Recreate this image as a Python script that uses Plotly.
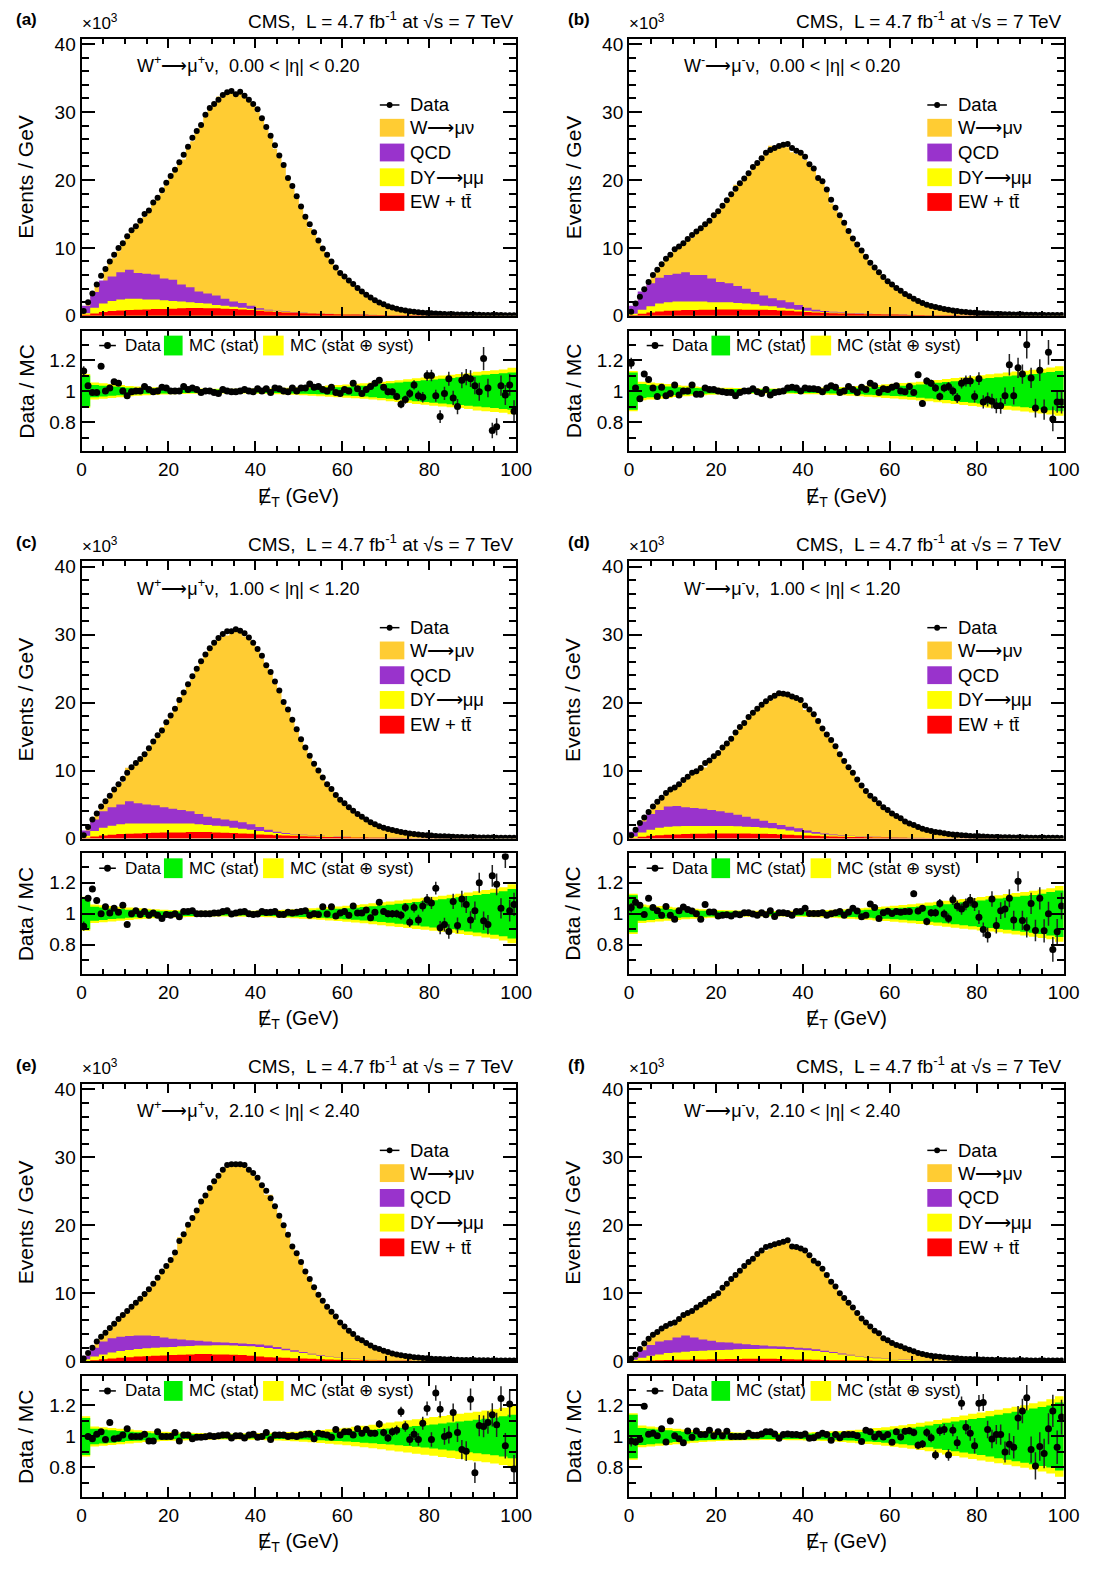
import numpy as np
import plotly.graph_objects as go

W_PX, H_PX = 1116, 1591
FONT = "Liberation Sans, Arial, sans-serif"

# text of the six panels
panel_tags = ["(a)", "(b)", "(c)", "(d)", "(e)", "(f)"]
channel_labels = [
    "W<sup>+</sup>⟶μ<sup>+</sup>ν,  0.00 < |η| < 0.20",
    "W<sup>-</sup>⟶μ<sup>-</sup>ν,  0.00 < |η| < 0.20",
    "W<sup>+</sup>⟶μ<sup>+</sup>ν,  1.00 < |η| < 1.20",
    "W<sup>-</sup>⟶μ<sup>-</sup>ν,  1.00 < |η| < 1.20",
    "W<sup>+</sup>⟶μ<sup>+</sup>ν,  2.10 < |η| < 2.40",
    "W<sup>-</sup>⟶μ<sup>-</sup>ν,  2.10 < |η| < 2.40",
]
lumi_label = "CMS,  L = 4.7 fb<sup>-1</sup> at √s = 7 TeV"
legend_main = ["W⟶μν", "QCD", "DY⟶μμ", "EW + tt̄"]

# 1 GeV bins: data points in the upper pad (x10^3 events / GeV)
data_a = [0.7, 2.0, 3.3, 4.6, 5.9, 6.9, 8.0, 9.0, 10.0, 10.7,
          11.7, 12.6, 13.2, 14.0, 15.0, 15.5, 16.7, 17.4, 18.5, 19.6,
          20.6, 21.5, 22.6, 23.7, 24.9, 26.2, 27.2, 28.1, 29.6, 30.6,
          31.2, 31.8, 32.5, 32.9, 33.1, 32.6, 33.0, 32.4, 31.8, 31.2,
          30.4, 29.1, 27.8, 26.5, 25.1, 23.6, 22.2, 20.3, 19.1, 17.6,
          16.1, 14.6, 13.5, 12.3, 11.1, 9.9, 9.0, 8.0, 7.1, 6.3,
          5.8, 5.2, 4.7, 4.1, 3.6, 3.1, 2.7, 2.3, 1.95, 1.7,
          1.4, 1.24, 1.05, 0.9, 0.78, 0.68, 0.6, 0.52, 0.46, 0.41,
          0.37, 0.33, 0.3, 0.27, 0.25, 0.23, 0.21, 0.19, 0.18, 0.17,
          0.16, 0.15, 0.14, 0.13, 0.12, 0.12, 0.11, 0.1, 0.1, 0.09]
data_b = [0.6, 1.8, 2.8, 3.9, 5.0, 6.0, 6.8, 7.6, 8.4, 9.0,
          9.8, 10.2, 10.7, 11.3, 11.9, 12.4, 12.9, 13.5, 14.0, 14.8,
          15.4, 16.2, 17.0, 17.9, 18.7, 19.5, 20.2, 21.0, 21.9, 22.5,
          23.2, 24.0, 24.4, 24.7, 25.0, 25.2, 25.3, 24.7, 24.3, 24.0,
          23.4, 22.3, 21.7, 20.3, 19.8, 18.6, 17.1, 15.9, 14.8, 13.7,
          12.5, 11.4, 10.5, 9.6, 8.7, 7.8, 7.1, 6.4, 5.7, 5.1,
          4.6, 4.1, 3.7, 3.2, 2.9, 2.5, 2.2, 1.9, 1.65, 1.45,
          1.3, 1.15, 1.0, 0.88, 0.8, 0.7, 0.62, 0.55, 0.5, 0.45,
          0.4, 0.37, 0.33, 0.3, 0.28, 0.26, 0.24, 0.22, 0.2, 0.19,
          0.18, 0.17, 0.16, 0.15, 0.14, 0.13, 0.13, 0.12, 0.11, 0.11]
data_c = [0.5, 1.7, 2.8, 3.7, 4.7, 5.5, 6.3, 7.2, 8.0, 8.8,
          9.7, 10.5, 11.1, 11.7, 12.4, 13.3, 14.3, 15.2, 15.9, 17.1,
          18.1, 19.1, 20.4, 21.5, 22.7, 23.9, 25.0, 26.1, 27.1, 28.0,
          28.8, 29.5, 30.1, 30.5, 30.5, 30.8, 30.6, 30.2, 29.6, 28.8,
          27.9, 26.9, 25.5, 24.5, 23.1, 21.8, 20.1, 19.0, 17.5, 16.1,
          14.6, 13.4, 12.2, 11.0, 10.0, 9.0, 8.0, 7.3, 6.4, 5.7,
          5.2, 4.6, 4.1, 3.6, 3.2, 2.8, 2.4, 2.1, 1.8, 1.6,
          1.4, 1.25, 1.1, 0.95, 0.85, 0.75, 0.67, 0.6, 0.53, 0.48,
          0.43, 0.39, 0.35, 0.32, 0.29, 0.26, 0.24, 0.22, 0.2, 0.19,
          0.18, 0.17, 0.16, 0.15, 0.14, 0.13, 0.12, 0.12, 0.11, 0.1]
data_d = [0.5, 1.3, 2.3, 3.1, 3.9, 4.7, 5.4, 6.0, 6.7, 7.2,
          7.5, 8.0, 8.6, 9.1, 9.7, 9.9, 10.4, 11.1, 11.5, 12.1,
          12.6, 13.4, 14.0, 14.7, 15.6, 16.4, 17.0, 17.9, 18.5, 19.1,
          19.7, 20.2, 20.7, 21.0, 21.4, 21.3, 21.2, 20.9, 20.7, 20.4,
          19.6, 19.0, 18.3, 17.3, 16.2, 15.3, 14.5, 13.6, 12.4, 11.4,
          10.5, 9.7, 8.7, 7.8, 7.0, 6.3, 5.8, 5.2, 4.6, 4.2,
          3.7, 3.3, 3.0, 2.5, 2.2, 2.0, 1.7, 1.45, 1.25, 1.1,
          0.98, 0.87, 0.77, 0.68, 0.6, 0.54, 0.48, 0.43, 0.39, 0.35,
          0.32, 0.29, 0.26, 0.24, 0.22, 0.2, 0.19, 0.18, 0.17, 0.16,
          0.15, 0.14, 0.13, 0.13, 0.12, 0.12, 0.11, 0.1, 0.1, 0.09]
data_e = [0.4, 1.2, 2.0, 2.9, 3.6, 4.2, 4.9, 5.5, 6.2, 6.8,
          7.4, 8.0, 8.6, 9.2, 9.9, 10.6, 11.4, 12.3, 13.2, 14.0,
          14.9, 16.0, 17.7, 18.7, 20.1, 21.1, 22.2, 23.5, 24.4, 25.5,
          26.5, 27.3, 28.2, 28.9, 29.0, 29.0, 29.0, 28.9, 28.2, 27.7,
          27.0, 25.9, 25.1, 24.0, 22.8, 21.4, 20.0, 18.6, 16.9, 15.9,
          14.6, 13.2, 12.1, 10.9, 9.8, 8.9, 8.0, 7.3, 6.6, 5.7,
          5.1, 4.5, 4.0, 3.4, 3.1, 2.7, 2.3, 2.0, 1.8, 1.55,
          1.35, 1.15, 1.0, 0.88, 0.77, 0.68, 0.6, 0.53, 0.47, 0.42,
          0.38, 0.34, 0.31, 0.28, 0.25, 0.23, 0.21, 0.19, 0.18, 0.17,
          0.16, 0.15, 0.14, 0.13, 0.12, 0.12, 0.11, 0.1, 0.1, 0.09]
data_f = [0.4, 1.0, 1.8, 2.6, 3.3, 3.9, 4.3, 4.8, 5.2, 5.5,
          5.7, 6.2, 6.8, 7.1, 7.4, 7.9, 8.3, 8.7, 9.2, 9.6,
          10.0, 10.8, 11.4, 12.1, 12.7, 13.3, 14.0, 14.6, 15.1, 15.8,
          16.3, 16.8, 17.0, 17.2, 17.4, 17.6, 17.8, 16.9, 16.8, 16.6,
          16.3, 15.6, 14.8, 14.4, 13.6, 12.7, 11.7, 11.0, 10.0, 9.3,
          8.6, 7.9, 7.1, 6.3, 5.7, 5.1, 4.5, 4.1, 3.4, 3.1,
          2.7, 2.4, 2.2, 1.9, 1.7, 1.45, 1.2, 1.05, 0.92, 0.82,
          0.73, 0.65, 0.58, 0.52, 0.47, 0.42, 0.38, 0.34, 0.31, 0.28,
          0.26, 0.24, 0.22, 0.2, 0.19, 0.18, 0.17, 0.16, 0.15, 0.14,
          0.13, 0.13, 0.12, 0.12, 0.11, 0.11, 0.1, 0.1, 0.09, 0.09]

# 1 GeV bins: data / MC in the lower pad
ratio_a = [1.13, 1.035, 0.99, 0.99, 1.16, 1.0, 1.02, 1.06, 1.05, 1.0,
           0.97, 0.995, 1.0, 1.0, 1.03, 1.01, 0.995, 1.0, 1.025, 1.02,
           1.0, 1.0, 1.0, 1.03, 1.01, 1.02, 1.01, 0.99, 1.0, 1.0,
           0.99, 0.985, 1.01, 1.0, 0.995, 0.995, 1.0, 1.01, 1.0, 0.995,
           1.015, 1.0, 1.015, 0.99, 1.02, 1.015, 1.0, 0.995, 1.02, 1.0,
           1.02, 1.02, 1.045, 1.025, 1.03, 1.01, 1.0, 1.025, 0.99, 0.985,
           1.01, 1.0, 1.05, 1.015, 0.985, 1.01, 1.03, 1.05, 1.07, 1.025,
           0.995, 0.995, 0.965, 0.915, 0.945, 0.985, 1.04, 0.97, 0.96, 1.10,
           1.10, 0.97, 0.835, 0.985, 1.08, 0.955, 0.9, 1.07, 1.09, 1.08,
           1.035, 0.995, 1.21, 1.02, 0.745, 0.77, 1.035, 0.975, 1.04, 0.87]
ratio_b = [1.18, 1.02, 0.95, 1.11, 1.075, 1.02, 0.965, 1.025, 0.97, 0.985,
           1.04, 0.975, 1.0, 1.0, 1.04, 0.98, 0.98, 1.02, 1.01, 1.01,
           1.0, 0.995, 0.99, 0.99, 0.97, 0.99, 1.0, 1.0, 1.015, 0.995,
           0.985, 1.01, 0.975, 0.99, 0.995, 1.0, 1.02, 1.025, 1.02, 1.0,
           1.02, 1.015, 1.015, 1.01, 0.995, 1.02, 1.035, 1.025, 0.99, 1.0,
           1.03, 1.01, 0.99, 1.025, 1.01, 1.05, 1.035, 0.99, 1.015, 1.01,
           1.025, 1.035, 1.0, 0.995, 1.03, 0.99, 1.105, 0.92, 1.065, 1.05,
           1.02, 0.965, 1.02, 1.03, 1.0, 0.955, 1.05, 1.065, 1.065, 0.965,
           1.08, 0.93, 0.945, 0.935, 0.905, 0.905, 0.97, 1.17, 0.97, 1.15,
           1.11, 1.30, 1.085, 0.89, 1.135, 0.88, 1.25, 0.82, 0.93, 0.93]
ratio_c = [0.92, 1.10, 1.16, 1.085, 1.0, 1.045, 1.005, 1.035, 1.01, 1.055,
           0.93, 1.0, 1.02, 0.995, 1.015, 0.99, 1.005, 0.99, 0.97, 0.995,
           0.99, 1.0, 0.98, 1.015, 1.015, 1.02, 1.0, 1.0, 1.0, 1.0,
           1.005, 1.005, 1.015, 1.02, 0.998, 1.005, 1.012, 1.015, 1.0, 0.995,
           0.998, 1.015, 1.008, 1.01, 1.015, 0.995, 0.995, 1.01, 1.005, 1.01,
           1.015, 1.02, 0.99, 1.0, 0.995, 1.045, 0.998, 1.045, 0.985, 1.005,
           1.015, 0.99, 1.05, 1.005, 1.005, 1.025, 0.975, 1.01, 1.075, 1.015,
           1.0, 1.0, 1.0, 0.99, 1.04, 0.945, 1.04, 0.96, 1.05, 1.09,
           1.07, 1.165, 0.91, 0.93, 0.885, 1.08, 0.925, 1.095, 1.06, 0.96,
           1.02, 1.20, 0.955, 0.93, 1.245, 1.19, 1.035, 1.37, 1.02, 1.06]
ratio_d = [1.04, 1.075, 1.055, 0.995, 1.10, 1.04, 1.02, 0.99, 1.047, 0.99,
           0.965, 1.02, 1.043, 1.027, 1.018, 1.0, 0.965, 1.06, 1.012, 1.012,
           0.986, 0.99, 0.994, 0.986, 0.998, 0.994, 1.006, 1.006, 0.998, 0.99,
           1.006, 0.994, 1.02, 0.982, 1.006, 1.006, 1.002, 0.99, 1.014, 1.014,
           1.035, 1.002, 1.002, 1.002, 1.006, 0.99, 1.0, 1.006, 1.014, 0.99,
           1.01, 1.035, 1.018, 0.98, 0.99, 1.063, 1.04, 0.97, 1.006, 1.016,
           1.002, 1.014, 1.01, 1.014, 1.014, 1.13, 1.018, 1.035, 0.95, 1.006,
           1.006, 1.067, 0.998, 0.97, 1.09, 1.05, 1.03, 1.06, 1.088, 1.06,
           0.978, 0.898, 0.863, 1.096, 0.925, 1.02, 1.03, 1.10, 0.96, 1.21,
           0.957, 0.912, 1.067, 0.892, 1.10, 0.89, 1.0, 0.77, 0.884, 1.05]
ratio_e = [None, 1.0, 0.985, 1.015, 1.03, 0.98, 1.09, 0.985, 0.99, 1.01,
           1.05, 1.0, 1.0, 1.0, 1.015, 0.97, 0.97, 1.03, 1.0, 1.0,
           1.0, 1.025, 0.97, 1.01, 1.01, 0.985, 0.995, 0.995, 0.998, 1.005,
           1.0, 1.005, 1.01, 1.01, 0.99, 1.005, 1.005, 0.99, 1.01, 1.015,
           0.995, 1.0, 1.025, 0.98, 1.01, 1.01, 1.01, 1.0, 1.005, 1.0,
           1.01, 1.015, 1.015, 0.985, 1.02, 1.015, 1.01, 0.995, 1.045, 1.01,
           1.03, 1.03, 1.01, 1.05, 1.02, 1.045, 1.02, 1.02, 1.08, 1.025,
           0.99, 1.03, 1.04, 1.16, 1.065, 0.98, 1.015, 0.98, 1.085, 1.18,
           0.98, 1.28, 1.175, 1.0, 1.01, 1.155, 1.025, 0.915, 0.905, 1.24,
           0.765, 1.07, 1.065, 1.09, 1.14, 1.075, 1.245, 0.94, 1.21, 0.79]
ratio_f = [0.97, 0.965, 0.98, 1.195, 1.015, 1.02, 1.005, 1.05, 0.965, 1.1,
           1.005, 0.985, 0.96, 1.035, 0.995, 1.035, 1.012, 1.012, 1.04, 1.005,
           1.03, 1.005, 1.033, 1.0, 1.0, 1.0, 1.0, 1.02, 1.008, 1.008,
           1.016, 1.03, 1.03, 1.016, 0.988, 1.012, 1.016, 1.012, 1.012, 1.008,
           1.016, 0.988, 0.992, 1.008, 1.02, 1.012, 0.975, 1.012, 0.992, 1.012,
           1.012, 1.012, 1.004, 0.967, 1.04, 1.03, 0.996, 1.016, 0.996, 1.012,
           0.963, 1.03, 0.996, 1.033, 1.037, 1.025, 0.943, 0.951, 1.025, 0.992,
           0.88, 1.037, 1.045, 0.88, 1.04, 0.96, 1.215, 1.06, 1.02, 0.94,
           1.215, 1.22, 1.045, 0.984, 1.012, 1.012, 0.9, 0.95, 0.93, 1.12,
           1.165, 1.25, 0.915, 0.81, 0.935, 0.89, 1.05, 1.165, 0.93, 1.125]

# 1 GeV bins: half length of the data / MC error bars
err_a = [0.03, 0.015, 0.01, 0.01, 0.01, 0.008, 0.008, 0.007, 0.007, 0.006,
         0.006, 0.006, 0.005, 0.005, 0.005, 0.005, 0.005, 0.005, 0.005, 0.005,
         0.005, 0.005, 0.005, 0.005, 0.005, 0.005, 0.005, 0.005, 0.005, 0.005,
         0.005, 0.005, 0.005, 0.005, 0.005, 0.005, 0.005, 0.005, 0.005, 0.005,
         0.005, 0.005, 0.005, 0.005, 0.006, 0.006, 0.006, 0.006, 0.007, 0.007,
         0.007, 0.008, 0.008, 0.009, 0.009, 0.01, 0.01, 0.011, 0.011, 0.012,
         0.012, 0.013, 0.014, 0.015, 0.016, 0.017, 0.018, 0.019, 0.02, 0.021,
         0.022, 0.023, 0.024, 0.026, 0.027, 0.029, 0.03, 0.032, 0.034, 0.035,
         0.037, 0.039, 0.041, 0.043, 0.045, 0.047, 0.049, 0.051, 0.052, 0.054,
         0.056, 0.058, 0.075, 0.06, 0.05, 0.055, 0.065, 0.065, 0.07, 0.07]
err_b = [0.035, 0.016, 0.011, 0.01, 0.01, 0.009, 0.008, 0.008, 0.007, 0.007,
         0.006, 0.006, 0.006, 0.005, 0.005, 0.005, 0.005, 0.005, 0.005, 0.005,
         0.005, 0.005, 0.005, 0.005, 0.005, 0.005, 0.005, 0.005, 0.005, 0.005,
         0.005, 0.005, 0.005, 0.005, 0.005, 0.005, 0.005, 0.005, 0.005, 0.005,
         0.005, 0.005, 0.006, 0.006, 0.006, 0.006, 0.007, 0.007, 0.007, 0.008,
         0.008, 0.009, 0.009, 0.01, 0.01, 0.011, 0.011, 0.012, 0.013, 0.013,
         0.014, 0.015, 0.016, 0.017, 0.018, 0.019, 0.02, 0.021, 0.022, 0.023,
         0.025, 0.026, 0.027, 0.029, 0.03, 0.032, 0.034, 0.035, 0.037, 0.039,
         0.041, 0.043, 0.045, 0.047, 0.049, 0.051, 0.053, 0.07, 0.056, 0.065,
         0.062, 0.09, 0.065, 0.06, 0.07, 0.065, 0.08, 0.08, 0.07, 0.075]
err_c = [0.03, 0.02, 0.015, 0.012, 0.01, 0.009, 0.008, 0.008, 0.007, 0.007,
         0.006, 0.006, 0.006, 0.005, 0.005, 0.005, 0.005, 0.005, 0.005, 0.005,
         0.005, 0.005, 0.005, 0.005, 0.005, 0.005, 0.005, 0.005, 0.005, 0.005,
         0.005, 0.005, 0.005, 0.005, 0.005, 0.005, 0.005, 0.005, 0.005, 0.005,
         0.005, 0.005, 0.005, 0.005, 0.005, 0.006, 0.006, 0.006, 0.006, 0.007,
         0.007, 0.008, 0.008, 0.009, 0.009, 0.01, 0.01, 0.011, 0.012, 0.012,
         0.013, 0.014, 0.015, 0.016, 0.017, 0.018, 0.019, 0.02, 0.021, 0.022,
         0.023, 0.025, 0.026, 0.028, 0.029, 0.031, 0.032, 0.034, 0.036, 0.037,
         0.039, 0.041, 0.043, 0.045, 0.047, 0.049, 0.051, 0.053, 0.055, 0.057,
         0.059, 0.065, 0.06, 0.062, 0.07, 0.07, 0.065, 0.075, 0.07, 0.075]
err_d = [0.03, 0.02, 0.015, 0.012, 0.011, 0.01, 0.009, 0.008, 0.008, 0.007,
         0.007, 0.006, 0.006, 0.006, 0.006, 0.006, 0.005, 0.005, 0.005, 0.005,
         0.005, 0.005, 0.005, 0.005, 0.005, 0.005, 0.005, 0.005, 0.005, 0.005,
         0.005, 0.005, 0.005, 0.005, 0.005, 0.005, 0.005, 0.005, 0.005, 0.005,
         0.005, 0.005, 0.006, 0.006, 0.006, 0.006, 0.007, 0.007, 0.007, 0.008,
         0.008, 0.009, 0.009, 0.01, 0.011, 0.011, 0.012, 0.013, 0.013, 0.014,
         0.015, 0.016, 0.017, 0.018, 0.019, 0.02, 0.021, 0.022, 0.024, 0.025,
         0.026, 0.028, 0.029, 0.031, 0.033, 0.034, 0.036, 0.038, 0.04, 0.042,
         0.044, 0.046, 0.048, 0.05, 0.052, 0.054, 0.056, 0.058, 0.06, 0.065,
         0.062, 0.065, 0.068, 0.07, 0.072, 0.075, 0.078, 0.08, 0.082, 0.085]
err_e = [0.03, 0.02, 0.015, 0.012, 0.011, 0.01, 0.009, 0.008, 0.008, 0.007,
         0.007, 0.006, 0.006, 0.006, 0.006, 0.006, 0.005, 0.005, 0.005, 0.005,
         0.005, 0.005, 0.005, 0.005, 0.005, 0.005, 0.005, 0.005, 0.005, 0.005,
         0.005, 0.005, 0.005, 0.005, 0.005, 0.005, 0.005, 0.005, 0.005, 0.005,
         0.005, 0.005, 0.006, 0.006, 0.006, 0.006, 0.007, 0.007, 0.007, 0.008,
         0.008, 0.009, 0.009, 0.01, 0.011, 0.011, 0.012, 0.013, 0.013, 0.014,
         0.015, 0.016, 0.017, 0.018, 0.019, 0.02, 0.021, 0.022, 0.024, 0.025,
         0.026, 0.028, 0.03, 0.032, 0.034, 0.036, 0.038, 0.04, 0.042, 0.045,
         0.047, 0.05, 0.052, 0.054, 0.056, 0.058, 0.06, 0.062, 0.064, 0.07,
         0.066, 0.068, 0.07, 0.072, 0.075, 0.078, 0.08, 0.083, 0.086, 0.09]
err_f = [0.035, 0.025, 0.018, 0.015, 0.013, 0.012, 0.011, 0.01, 0.01, 0.009,
         0.009, 0.008, 0.008, 0.007, 0.007, 0.007, 0.007, 0.007, 0.006, 0.006,
         0.006, 0.006, 0.006, 0.006, 0.006, 0.006, 0.006, 0.006, 0.006, 0.006,
         0.006, 0.006, 0.006, 0.006, 0.006, 0.006, 0.006, 0.006, 0.006, 0.006,
         0.006, 0.007, 0.007, 0.007, 0.008, 0.008, 0.008, 0.009, 0.009, 0.01,
         0.01, 0.011, 0.011, 0.012, 0.013, 0.013, 0.014, 0.015, 0.016, 0.017,
         0.018, 0.019, 0.02, 0.021, 0.022, 0.024, 0.025, 0.026, 0.028, 0.029,
         0.031, 0.033, 0.035, 0.037, 0.039, 0.041, 0.043, 0.045, 0.047, 0.05,
         0.052, 0.055, 0.057, 0.06, 0.062, 0.065, 0.068, 0.07, 0.073, 0.076,
         0.079, 0.082, 0.085, 0.088, 0.092, 0.095, 0.1, 0.104, 0.108, 0.112]

# 2 GeV bins: background contributions (x10^3 events / GeV)
ew_a = [0.15, 0.35, 0.55, 0.7, 0.8, 0.85, 0.9, 0.95, 1.0, 1.0,
        1.05, 1.1, 1.15, 1.15, 1.1, 1.1, 1.05, 1.0, 0.95, 0.85,
        0.75, 0.65, 0.55, 0.5, 0.45, 0.4, 0.35, 0.3, 0.27, 0.24,
        0.21, 0.18, 0.16, 0.14, 0.12, 0.1, 0.09, 0.08, 0.07, 0.06,
        0.05, 0.05, 0.04, 0.04, 0.03, 0.03, 0.03, 0.02, 0.02, 0.02]
dy_a = [0.25, 0.85, 1.25, 1.5, 1.6, 1.65, 1.6, 1.45, 1.4, 1.3,
        1.15, 1.0, 0.85, 0.75, 0.7, 0.5, 0.45, 0.35, 0.25, 0.2,
        0.15, 0.13, 0.11, 0.08, 0.05, 0.04, 0.03, 0.03, 0.02, 0.02,
        0.02, 0.02, 0.01, 0.01, 0.01, 0.01, 0.01, 0.01, 0.01, 0.01,
        0.01, 0.01, 0.01, 0.0, 0.0, 0.0, 0.0, 0.0, 0.0, 0.0]
qcd_a = [1.1, 2.3, 3.4, 3.6, 4.0, 4.3, 3.8, 3.8, 3.7, 3.2,
         3.1, 2.5, 2.2, 1.7, 1.5, 1.4, 1.0, 0.75, 0.7, 0.45,
         0.2, 0.1, 0.08, 0.07, 0.06, 0.05, 0.04, 0.03, 0.03, 0.02,
         0.02, 0.01, 0.01, 0.01, 0.01, 0.01, 0.0, 0.0, 0.0, 0.0,
         0.0, 0.0, 0.0, 0.0, 0.0, 0.0, 0.0, 0.0, 0.0, 0.0]
ew_b = [0.1, 0.3, 0.5, 0.65, 0.75, 0.8, 0.85, 0.85, 0.9, 0.9,
        0.95, 0.95, 0.95, 0.9, 0.9, 0.9, 0.85, 0.8, 0.75, 0.65,
        0.55, 0.5, 0.45, 0.4, 0.35, 0.3, 0.28, 0.25, 0.22, 0.2,
        0.18, 0.16, 0.14, 0.12, 0.1, 0.09, 0.08, 0.07, 0.06, 0.05,
        0.05, 0.04, 0.04, 0.03, 0.03, 0.03, 0.02, 0.02, 0.02, 0.02]
dy_b = [0.2, 0.6, 0.9, 1.15, 1.25, 1.3, 1.25, 1.25, 1.2, 1.1,
        1.05, 1.05, 0.95, 0.9, 0.8, 0.6, 0.55, 0.4, 0.3, 0.25,
        0.2, 0.15, 0.1, 0.08, 0.07, 0.06, 0.04, 0.03, 0.02, 0.01,
        0.01, 0.01, 0.01, 0.01, 0.01, 0.0, 0.0, 0.0, 0.0, 0.0,
        0.0, 0.0, 0.0, 0.0, 0.0, 0.0, 0.0, 0.0, 0.0, 0.0]
qcd_b = [1.2, 2.7, 3.4, 3.8, 4.0, 4.1, 4.3, 3.9, 3.9, 3.5,
         3.0, 2.8, 2.5, 2.2, 1.8, 1.5, 1.2, 1.1, 0.95, 0.7,
         0.45, 0.25, 0.15, 0.12, 0.08, 0.06, 0.05, 0.04, 0.03, 0.02,
         0.02, 0.01, 0.01, 0.01, 0.01, 0.0, 0.0, 0.0, 0.0, 0.0,
         0.0, 0.0, 0.0, 0.0, 0.0, 0.0, 0.0, 0.0, 0.0, 0.0]
ew_c = [0.1, 0.3, 0.45, 0.55, 0.65, 0.7, 0.75, 0.8, 0.85, 0.9,
        0.9, 0.9, 0.95, 0.95, 0.95, 0.9, 0.85, 0.8, 0.75, 0.7,
        0.6, 0.55, 0.5, 0.45, 0.4, 0.35, 0.3, 0.27, 0.24, 0.21,
        0.18, 0.16, 0.14, 0.12, 0.1, 0.09, 0.08, 0.07, 0.06, 0.05,
        0.05, 0.04, 0.04, 0.03, 0.03, 0.03, 0.02, 0.02, 0.02, 0.02]
dy_c = [0.3, 0.8, 1.15, 1.35, 1.45, 1.5, 1.45, 1.4, 1.35, 1.3,
        1.3, 1.3, 1.25, 1.15, 1.05, 1.0, 0.95, 0.8, 0.7, 0.6,
        0.5, 0.4, 0.3, 0.23, 0.18, 0.15, 0.13, 0.1, 0.08, 0.07,
        0.06, 0.05, 0.04, 0.04, 0.03, 0.03, 0.02, 0.02, 0.02, 0.02,
        0.01, 0.01, 0.01, 0.01, 0.01, 0.01, 0.01, 0.01, 0.01, 0.01]
qcd_c = [0.8, 1.7, 2.4, 2.7, 2.9, 3.3, 3.0, 2.8, 2.7, 2.4,
         2.2, 2.0, 1.8, 1.5, 1.2, 1.1, 1.0, 1.0, 0.95, 0.8,
         0.6, 0.35, 0.2, 0.12, 0.07, 0.05, 0.04, 0.03, 0.02, 0.02,
         0.01, 0.01, 0.01, 0.01, 0.0, 0.0, 0.0, 0.0, 0.0, 0.0,
         0.0, 0.0, 0.0, 0.0, 0.0, 0.0, 0.0, 0.0, 0.0, 0.0]
ew_d = [0.08, 0.25, 0.4, 0.5, 0.55, 0.6, 0.65, 0.7, 0.7, 0.75,
        0.75, 0.75, 0.75, 0.75, 0.7, 0.7, 0.65, 0.6, 0.55, 0.5,
        0.45, 0.4, 0.35, 0.3, 0.27, 0.24, 0.21, 0.18, 0.16, 0.14,
        0.12, 0.1, 0.09, 0.08, 0.07, 0.06, 0.05, 0.05, 0.04, 0.04,
        0.03, 0.03, 0.03, 0.02, 0.02, 0.02, 0.02, 0.02, 0.01, 0.01]
dy_d = [0.22, 0.65, 0.9, 1.1, 1.2, 1.2, 1.2, 1.15, 1.15, 1.1,
        1.1, 1.1, 1.05, 1.0, 1.0, 0.9, 0.85, 0.75, 0.65, 0.5,
        0.4, 0.32, 0.25, 0.2, 0.15, 0.12, 0.09, 0.08, 0.06, 0.05,
        0.04, 0.04, 0.03, 0.03, 0.02, 0.02, 0.02, 0.02, 0.01, 0.01,
        0.01, 0.01, 0.01, 0.01, 0.01, 0.01, 0.01, 0.01, 0.01, 0.01]
qcd_d = [0.7, 1.6, 2.3, 2.6, 2.95, 3.0, 2.75, 2.65, 2.55, 2.35,
         2.15, 1.95, 1.7, 1.45, 1.2, 1.0, 0.8, 0.65, 0.55, 0.5,
         0.35, 0.23, 0.15, 0.1, 0.08, 0.06, 0.05, 0.04, 0.03, 0.02,
         0.02, 0.01, 0.01, 0.01, 0.0, 0.0, 0.0, 0.0, 0.0, 0.0,
         0.0, 0.0, 0.0, 0.0, 0.0, 0.0, 0.0, 0.0, 0.0, 0.0]
ew_e = [0.05, 0.15, 0.3, 0.4, 0.5, 0.6, 0.7, 0.75, 0.8, 0.85,
        0.9, 0.95, 1.0, 1.05, 1.05, 1.0, 1.0, 0.95, 0.9, 0.8,
        0.7, 0.6, 0.55, 0.5, 0.45, 0.4, 0.35, 0.3, 0.25, 0.2,
        0.17, 0.15, 0.13, 0.11, 0.1, 0.08, 0.07, 0.06, 0.05, 0.05,
        0.04, 0.04, 0.03, 0.03, 0.03, 0.02, 0.02, 0.02, 0.02, 0.02]
dy_e = [0.25, 0.55, 0.7, 0.9, 1.0, 1.05, 1.1, 1.15, 1.2, 1.2,
        1.2, 1.25, 1.25, 1.25, 1.25, 1.35, 1.35, 1.35, 1.35, 1.4,
        1.4, 1.35, 1.25, 1.1, 0.95, 0.8, 0.65, 0.5, 0.4, 0.3,
        0.23, 0.17, 0.12, 0.09, 0.06, 0.05, 0.03, 0.02, 0.02, 0.01,
        0.01, 0.01, 0.01, 0.01, 0.01, 0.01, 0.01, 0.01, 0.01, 0.01]
qcd_e = [0.5, 1.3, 1.9, 2.1, 2.1, 2.05, 2.0, 1.9, 1.7, 1.45,
         1.2, 1.0, 0.85, 0.7, 0.6, 0.45, 0.4, 0.4, 0.35, 0.35,
         0.35, 0.35, 0.3, 0.25, 0.2, 0.15, 0.1, 0.1, 0.05, 0.05,
         0.04, 0.03, 0.02, 0.02, 0.01, 0.01, 0.01, 0.0, 0.0, 0.0,
         0.0, 0.0, 0.0, 0.0, 0.0, 0.0, 0.0, 0.0, 0.0, 0.0]
ew_f = [0.03, 0.08, 0.12, 0.15, 0.18, 0.2, 0.22, 0.24, 0.26, 0.28,
        0.3, 0.32, 0.34, 0.35, 0.36, 0.36, 0.35, 0.33, 0.3, 0.27,
        0.24, 0.21, 0.18, 0.16, 0.14, 0.12, 0.1, 0.09, 0.08, 0.07,
        0.06, 0.05, 0.04, 0.04, 0.03, 0.03, 0.02, 0.02, 0.02, 0.02,
        0.01, 0.01, 0.01, 0.01, 0.01, 0.01, 0.01, 0.01, 0.01, 0.01]
dy_f = [0.17, 0.42, 0.68, 0.85, 1.02, 1.1, 1.18, 1.26, 1.29, 1.32,
        1.35, 1.38, 1.41, 1.45, 1.44, 1.49, 1.5, 1.47, 1.45, 1.43,
        1.36, 1.29, 1.17, 1.04, 0.86, 0.73, 0.6, 0.46, 0.37, 0.29,
        0.22, 0.17, 0.14, 0.1, 0.08, 0.06, 0.05, 0.03, 0.02, 0.02,
        0.01, 0.01, 0.01, 0.01, 0.01, 0.01, 0.01, 0.01, 0.01, 0.01]
qcd_f = [0.4, 1.1, 1.6, 1.9, 1.9, 2.2, 2.4, 2.0, 1.65, 1.4,
         1.15, 1.05, 0.85, 0.7, 0.6, 0.45, 0.35, 0.35, 0.35, 0.3,
         0.3, 0.25, 0.2, 0.15, 0.15, 0.1, 0.08, 0.07, 0.05, 0.04,
         0.03, 0.02, 0.02, 0.01, 0.01, 0.0, 0.0, 0.0, 0.0, 0.0,
         0.0, 0.0, 0.0, 0.0, 0.0, 0.0, 0.0, 0.0, 0.0, 0.0]

# 2 GeV bins: relative MC uncertainty, stat only and stat (+) syst
stat_a = [0.1, 0.04, 0.035, 0.03, 0.027, 0.022, 0.02, 0.018, 0.016, 0.015,
          0.014, 0.013, 0.012, 0.011, 0.011, 0.01, 0.01, 0.01, 0.01, 0.01,
          0.011, 0.012, 0.013, 0.014, 0.015, 0.017, 0.019, 0.021, 0.023, 0.025,
          0.028, 0.031, 0.035, 0.04, 0.045, 0.05, 0.055, 0.06, 0.065, 0.07,
          0.075, 0.08, 0.085, 0.09, 0.095, 0.1, 0.105, 0.11, 0.115, 0.12]
syst_a = [0.11, 0.055, 0.05, 0.045, 0.04, 0.033, 0.03, 0.027, 0.025, 0.022,
          0.02, 0.019, 0.018, 0.017, 0.016, 0.015, 0.015, 0.015, 0.015, 0.016,
          0.017, 0.018, 0.02, 0.022, 0.024, 0.027, 0.03, 0.033, 0.036, 0.04,
          0.043, 0.047, 0.05, 0.055, 0.06, 0.065, 0.07, 0.077, 0.083, 0.088,
          0.095, 0.1, 0.105, 0.11, 0.115, 0.125, 0.13, 0.135, 0.14, 0.15]
stat_b = [0.12, 0.045, 0.04, 0.034, 0.03, 0.025, 0.022, 0.02, 0.018, 0.016,
          0.015, 0.014, 0.013, 0.012, 0.012, 0.011, 0.011, 0.011, 0.011, 0.012,
          0.012, 0.013, 0.014, 0.016, 0.017, 0.019, 0.021, 0.023, 0.026, 0.028,
          0.031, 0.034, 0.038, 0.043, 0.048, 0.053, 0.058, 0.064, 0.07, 0.075,
          0.08, 0.085, 0.09, 0.095, 0.1, 0.105, 0.11, 0.118, 0.124, 0.13]
syst_b = [0.13, 0.06, 0.055, 0.05, 0.045, 0.038, 0.034, 0.03, 0.027, 0.024,
          0.022, 0.021, 0.02, 0.019, 0.018, 0.017, 0.017, 0.017, 0.018, 0.019,
          0.02, 0.021, 0.023, 0.025, 0.027, 0.03, 0.033, 0.036, 0.04, 0.044,
          0.048, 0.052, 0.056, 0.061, 0.066, 0.072, 0.078, 0.084, 0.09, 0.096,
          0.102, 0.108, 0.114, 0.12, 0.126, 0.132, 0.138, 0.145, 0.152, 0.16]
stat_c = [0.1, 0.045, 0.04, 0.034, 0.03, 0.026, 0.023, 0.021, 0.019, 0.017,
          0.016, 0.015, 0.014, 0.013, 0.012, 0.012, 0.012, 0.012, 0.012, 0.013,
          0.013, 0.014, 0.015, 0.017, 0.019, 0.021, 0.023, 0.026, 0.029, 0.032,
          0.035, 0.039, 0.043, 0.048, 0.053, 0.058, 0.064, 0.07, 0.076, 0.082,
          0.088, 0.094, 0.1, 0.107, 0.114, 0.121, 0.128, 0.136, 0.145, 0.16]
syst_c = [0.11, 0.06, 0.055, 0.05, 0.045, 0.04, 0.036, 0.032, 0.029, 0.026,
          0.024, 0.022, 0.021, 0.02, 0.019, 0.018, 0.018, 0.018, 0.019, 0.02,
          0.021, 0.022, 0.024, 0.026, 0.029, 0.032, 0.035, 0.039, 0.043, 0.047,
          0.052, 0.057, 0.062, 0.068, 0.074, 0.08, 0.086, 0.092, 0.098, 0.104,
          0.11, 0.116, 0.123, 0.13, 0.137, 0.145, 0.153, 0.162, 0.172, 0.19]
stat_d = [0.12, 0.045, 0.04, 0.034, 0.03, 0.026, 0.023, 0.021, 0.019, 0.017,
          0.016, 0.015, 0.014, 0.013, 0.012, 0.012, 0.012, 0.012, 0.012, 0.013,
          0.013, 0.014, 0.015, 0.017, 0.019, 0.021, 0.023, 0.026, 0.029, 0.032,
          0.035, 0.039, 0.043, 0.047, 0.052, 0.057, 0.062, 0.068, 0.074, 0.08,
          0.086, 0.092, 0.098, 0.104, 0.11, 0.116, 0.122, 0.13, 0.14, 0.15]
syst_d = [0.13, 0.06, 0.055, 0.05, 0.045, 0.04, 0.036, 0.032, 0.029, 0.026,
          0.024, 0.022, 0.021, 0.02, 0.019, 0.018, 0.018, 0.018, 0.019, 0.02,
          0.021, 0.022, 0.024, 0.026, 0.029, 0.032, 0.035, 0.039, 0.043, 0.047,
          0.051, 0.056, 0.061, 0.066, 0.072, 0.078, 0.084, 0.09, 0.096, 0.102,
          0.108, 0.114, 0.12, 0.127, 0.134, 0.141, 0.148, 0.156, 0.165, 0.18]
stat_e = [0.12, 0.05, 0.045, 0.04, 0.035, 0.03, 0.027, 0.024, 0.021, 0.019,
          0.018, 0.017, 0.016, 0.015, 0.014, 0.013, 0.013, 0.013, 0.013, 0.013,
          0.014, 0.015, 0.016, 0.017, 0.018, 0.02, 0.022, 0.024, 0.027, 0.03,
          0.033, 0.036, 0.04, 0.044, 0.048, 0.052, 0.057, 0.062, 0.067, 0.072,
          0.078, 0.084, 0.09, 0.096, 0.102, 0.108, 0.115, 0.122, 0.13, 0.14]
syst_e = [0.13, 0.065, 0.06, 0.055, 0.05, 0.045, 0.04, 0.036, 0.033, 0.03,
          0.028, 0.026, 0.024, 0.022, 0.021, 0.02, 0.019, 0.019, 0.02, 0.021,
          0.022, 0.024, 0.026, 0.028, 0.031, 0.034, 0.038, 0.042, 0.047, 0.052,
          0.057, 0.063, 0.069, 0.076, 0.083, 0.09, 0.097, 0.104, 0.111, 0.118,
          0.125, 0.132, 0.139, 0.146, 0.153, 0.16, 0.167, 0.175, 0.185, 0.2]
stat_f = [0.14, 0.055, 0.05, 0.045, 0.04, 0.035, 0.031, 0.028, 0.025, 0.023,
          0.021, 0.02, 0.019, 0.018, 0.017, 0.016, 0.016, 0.016, 0.016, 0.017,
          0.018, 0.019, 0.02, 0.022, 0.024, 0.026, 0.029, 0.032, 0.036, 0.04,
          0.045, 0.05, 0.056, 0.062, 0.07, 0.08, 0.088, 0.096, 0.104, 0.112,
          0.12, 0.13, 0.14, 0.15, 0.16, 0.17, 0.18, 0.19, 0.2, 0.22]
syst_f = [0.15, 0.07, 0.065, 0.06, 0.055, 0.05, 0.045, 0.04, 0.036, 0.033,
          0.03, 0.028, 0.026, 0.025, 0.024, 0.023, 0.023, 0.023, 0.024, 0.025,
          0.026, 0.028, 0.03, 0.033, 0.036, 0.04, 0.044, 0.049, 0.054, 0.06,
          0.066, 0.073, 0.08, 0.088, 0.096, 0.106, 0.116, 0.126, 0.136, 0.146,
          0.155, 0.164, 0.173, 0.182, 0.192, 0.202, 0.214, 0.226, 0.24, 0.26]

panels = [
    dict(data=data_a, ratio=ratio_a, err=err_a, ew=ew_a, dy=dy_a, qcd=qcd_a, stat=stat_a, syst=syst_a),
    dict(data=data_b, ratio=ratio_b, err=err_b, ew=ew_b, dy=dy_b, qcd=qcd_b, stat=stat_b, syst=syst_b),
    dict(data=data_c, ratio=ratio_c, err=err_c, ew=ew_c, dy=dy_c, qcd=qcd_c, stat=stat_c, syst=syst_c),
    dict(data=data_d, ratio=ratio_d, err=err_d, ew=ew_d, dy=dy_d, qcd=qcd_d, stat=stat_d, syst=syst_d),
    dict(data=data_e, ratio=ratio_e, err=err_e, ew=ew_e, dy=dy_e, qcd=qcd_e, stat=stat_e, syst=syst_e),
    dict(data=data_f, ratio=ratio_f, err=err_f, ew=ew_f, dy=dy_f, qcd=qcd_f, stat=stat_f, syst=syst_f),
]

C_W = "rgb(255,204,51)"
C_QCD = "rgb(153,51,204)"
C_DY = "rgb(255,255,0)"
C_EW = "rgb(255,0,0)"
C_STAT = "rgb(0,240,0)"
C_SYST = "rgb(255,255,0)"

fine_edges = np.arange(0, 101, 1)
coarse_edges = np.arange(0, 101, 2)


def px(x):
    return x / W_PX


def py(y):
    return 1 - y / H_PX


def step(vals):
    # hv step line needs the last value repeated at the right edge
    v = list(vals)
    return v + [v[-1]]


fig = go.Figure()
layout = {}
annotations = []
shapes = []

col_left = [78, 636]
frame_w = 443
row_off = [0, 528, 1056]

for p, pan in enumerate(panels):
    for key in ("data", "ratio", "err"):
        assert len(pan[key]) == 100, (p, key, len(pan[key]))
    for key in ("ew", "dy", "qcd", "stat", "syst"):
        assert len(pan[key]) == 50, (p, key, len(pan[key]))

    row, col = divmod(p, 2)
    x0 = col_left[col]
    x1 = x0 + frame_w
    off = row_off[row]
    im = 2 * p + 1
    ir = 2 * p + 2
    xm, ym = f"x{im}", f"y{im}"
    xr, yr = f"x{ir}", f"y{ir}"

    data = np.array(pan["data"], dtype=float)
    ratio = np.array([np.nan if r is None else r for r in pan["ratio"]], dtype=float)
    mc_total = data / np.where(np.isnan(ratio), 1.0, ratio)
    ew = np.array(pan["ew"])
    dy = np.array(pan["dy"])
    qcd = np.array(pan["qcd"])

    # stacked histogram, drawn from the top of the stack down
    for edges, top, color in [
        (fine_edges, mc_total, C_W),
        (coarse_edges, qcd + dy + ew, C_QCD),
        (coarse_edges, dy + ew, C_DY),
        (coarse_edges, ew, C_EW),
    ]:
        fig.add_trace(go.Scatter(
            x=edges, y=step(top), xaxis=xm, yaxis=ym, mode="lines",
            line=dict(shape="hv", width=0, color=color),
            fill="tozeroy", fillcolor=color, showlegend=False, hoverinfo="skip"))

    centers = fine_edges[:-1] + 0.5
    fig.add_trace(go.Scatter(
        x=centers, y=data, xaxis=xm, yaxis=ym, mode="markers",
        marker=dict(color="black", size=6), showlegend=False))

    # ratio pad: uncertainty bands
    stat = np.array(pan["stat"])
    syst = np.array(pan["syst"])
    for half, color in [(syst, C_SYST), (stat, C_STAT)]:
        fig.add_trace(go.Scatter(
            x=coarse_edges, y=step(1 - half), xaxis=xr, yaxis=yr, mode="lines",
            line=dict(shape="hv", width=0, color=color), showlegend=False, hoverinfo="skip"))
        fig.add_trace(go.Scatter(
            x=coarse_edges, y=step(1 + half), xaxis=xr, yaxis=yr, mode="lines",
            line=dict(shape="hv", width=0, color=color), fill="tonexty",
            fillcolor=color, showlegend=False, hoverinfo="skip"))

    fig.add_trace(go.Scatter(
        x=centers, y=ratio, xaxis=xr, yaxis=yr, mode="markers",
        marker=dict(color="black", size=7),
        error_y=dict(type="data", array=pan["err"], thickness=1.5, width=0, color="#222"),
        showlegend=False))

    axis_common = dict(showline=True, linecolor="black", linewidth=2, mirror="allticks",
                       ticks="inside", tickcolor="black", tickwidth=1.5, showgrid=False,
                       zeroline=False, tickfont=dict(family=FONT, size=19, color="black"))
    layout[f"xaxis{im}"] = dict(axis_common, domain=[px(x0), px(x1)], range=[0, 100],
                                anchor=ym, tickmode="linear", tick0=0, dtick=20, ticklen=9,
                                showticklabels=False,
                                minor=dict(ticks="inside", dtick=5, ticklen=5, tickcolor="black",
                                           tickwidth=1.5))
    layout[f"yaxis{im}"] = dict(axis_common, domain=[py(314 + off), py(34 + off)], range=[0, 40.8],
                                anchor=xm, tickmode="linear", tick0=0, dtick=10, ticklen=13,
                                minor=dict(ticks="inside", dtick=2, ticklen=7, tickcolor="black",
                                           tickwidth=1.5))
    layout[f"xaxis{ir}"] = dict(axis_common, domain=[px(x0), px(x1)], range=[0, 100],
                                anchor=yr, tickmode="linear", tick0=0, dtick=20, ticklen=10,
                                minor=dict(ticks="inside", dtick=5, ticklen=5, tickcolor="black",
                                           tickwidth=1.5))
    layout[f"yaxis{ir}"] = dict(axis_common, domain=[py(451 + off), py(329 + off)], range=[0.61, 1.39],
                                anchor=xr, tickmode="linear", tick0=0.6, dtick=0.2, ticklen=13,
                                minor=dict(ticks="inside", tick0=0.6, dtick=0.1, ticklen=7,
                                           tickcolor="black", tickwidth=1.5))

    def text(x, y, s, size=18, anchor="left", angle=0, bold=False):
        annotations.append(dict(
            x=px(x), y=py(y), xref="paper", yref="paper", text=f"<b>{s}</b>" if bold else s,
            showarrow=False, xanchor=anchor, yanchor="middle", textangle=angle,
            font=dict(family=FONT, size=size, color="black")))

    # header texts
    text(9 + 563 * col, 15 + off, panel_tags[p], size=17, bold=True)
    text(x0 - 2, 17 + off, "×10<sup>3</sup>", size=17)
    text(x1, 15 + off, lumi_label, size=19, anchor="right")
    text(x0 + 54, 60 + off, channel_labels[p], size=18)

    # axis titles
    ytitle_x = x0 - 57
    text(ytitle_x, 174 + off, "Events / GeV", size=21, anchor="center", angle=-90)
    text(ytitle_x, 390 + off, "Data / MC", size=21, anchor="center", angle=-90)
    text((x0 + x1) / 2, 497 + off, "Ɇ<sub>T</sub> (GeV)", size=20, anchor="center")

    # legend of the upper pad
    lx = x0 + 304
    shapes.append(dict(type="line", xref="paper", yref="paper", x0=px(lx), x1=px(lx + 20),
                       y0=py(101 + off), y1=py(101 + off), line=dict(color="black", width=1.5)))
    shapes.append(dict(type="circle", xref="paper", yref="paper", x0=px(lx + 7), x1=px(lx + 13),
                       y0=py(104 + off), y1=py(98 + off), fillcolor="black", line=dict(width=0)))
    text(lx + 29, 101 + off, "Data", size=18.5)
    for k, (lab, color) in enumerate(zip(legend_main, [C_W, C_QCD, C_DY, C_EW])):
        yc = 124 + 25 * k + off
        shapes.append(dict(type="rect", xref="paper", yref="paper", x0=px(lx), x1=px(lx + 25),
                           y0=py(yc + 9), y1=py(yc - 9), fillcolor=color, line=dict(width=0)))
        text(lx + 29, yc, lab, size=18.5)

    # legend of the ratio pad
    ly = 344 + off
    shapes.append(dict(type="line", xref="paper", yref="paper", x0=px(x0 + 18), x1=px(x0 + 35),
                       y0=py(ly), y1=py(ly), line=dict(color="black", width=1.5)))
    shapes.append(dict(type="circle", xref="paper", yref="paper", x0=px(x0 + 23), x1=px(x0 + 30),
                       y0=py(ly + 3.5), y1=py(ly - 3.5), fillcolor="black", line=dict(width=0)))
    text(x0 + 42, ly, "Data", size=17)
    shapes.append(dict(type="rect", xref="paper", yref="paper", x0=px(x0 + 84), x1=px(x0 + 103),
                       y0=py(ly + 10), y1=py(ly - 10), fillcolor=C_STAT, line=dict(width=0)))
    text(x0 + 107, ly, "MC (stat)", size=17)
    shapes.append(dict(type="rect", xref="paper", yref="paper", x0=px(x0 + 185), x1=px(x0 + 206),
                       y0=py(ly + 10), y1=py(ly - 10), fillcolor=C_SYST, line=dict(width=0)))
    text(x0 + 210, ly, "MC (stat ⊕ syst)", size=17)

# no fixed pixel size: the figure takes the whole browser window
fig.update_layout(
    autosize=True, margin=dict(l=0, r=0, t=0, b=0),
    paper_bgcolor="white", plot_bgcolor="white", showlegend=False,
    font=dict(family=FONT, size=18, color="black"),
    annotations=annotations, shapes=shapes, **layout)

fig.write_html(
    "out.html",
    default_width="100vw",
    default_height="100vh",
    config={"displayModeBar": False, "responsive": True},
    post_script=("document.body.style.margin='0px';"
                 "document.body.style.overflow='hidden';"
                 "document.documentElement.style.overflow='hidden';"
                 "window.dispatchEvent(new Event('resize'));"))
